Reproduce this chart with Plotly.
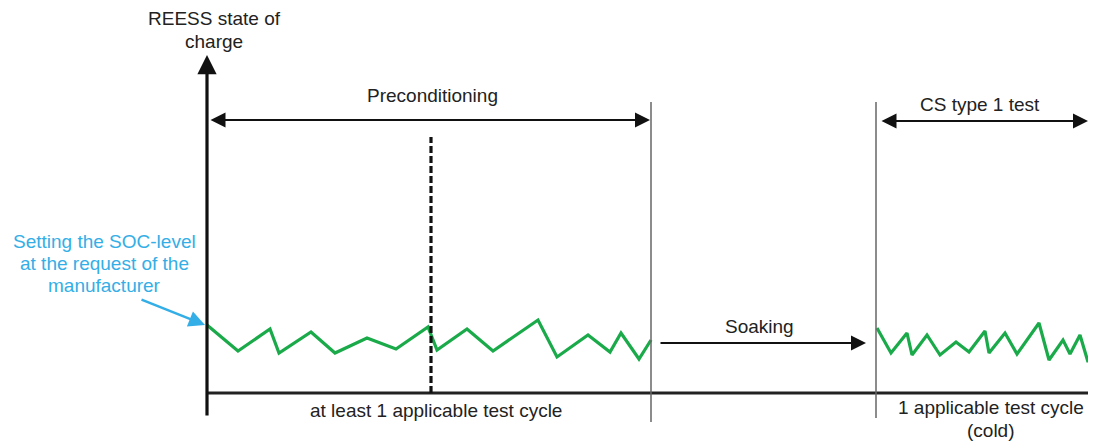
import plotly.graph_objects as go

# ---- data (time units along x, SOC units along y; origin at axis crossing) ----
precond_t = [0, 31, 63, 72, 104, 128, 160, 189, 221, 230, 260, 286, 331, 350, 381, 403, 414, 432, 444]
precond_soc = [68, 42, 64, 40, 61, 40, 55, 44, 66, 43, 64, 42, 73, 36, 58, 41, 60, 34, 53]
cold_t = [670, 684, 700, 705, 720, 733, 749, 762, 778, 782, 798, 810, 832, 842, 856, 863, 873, 881, 889]
cold_soc = [65, 40, 60, 38, 58, 38, 51, 41, 62, 40, 60, 39, 70, 33, 53, 39, 58, 31, 48]

y_title_lines = ["REESS state of", "charge"]
phase_labels = ["Preconditioning", "CS type 1 test", "Soaking"]
cycle_label_1 = "at least 1 applicable test cycle"
cycle_label_2_lines = ["1 applicable test cycle", "(cold)"]
soc_note_lines = ["Setting the SOC-level", "at the request of the", "manufacturer"]

# phase boundaries (time)
t_precond_end = 444
t_test_start = 669
t_end = 888
t_first_cycle_end = 224

GREEN = "#1aaa4a"
BLUE = "#34aee6"
FONT = "Liberation Sans, Arial, sans-serif"

fig = go.Figure()

for t, s in [(precond_t, precond_soc), (cold_t, cold_soc)]:
    fig.add_trace(go.Scatter(x=t, y=s, mode="lines",
                             line=dict(color=GREEN, width=3.2),
                             hoverinfo="skip", showlegend=False))

shapes = [
    # x-axis baseline
    dict(type="line", x0=0, x1=889, y0=0, y1=0, line=dict(color="#222", width=3)),
    # phase boundaries
    dict(type="line", x0=t_precond_end, x1=t_precond_end, y0=-29, y1=291, line=dict(color="#666", width=1.5)),
    dict(type="line", x0=t_test_start, x1=t_test_start, y0=-25, y1=291, line=dict(color="#666", width=1.5)),
    dict(type="line", x0=t_end, x1=t_end, y0=-27, y1=290, line=dict(color="#666", width=1.5)),
    # end of first cycle (dashed)
    dict(type="line", x0=t_first_cycle_end, x1=t_first_cycle_end, y0=0, y1=256,
         line=dict(color="#111", width=3.2, dash="7px,3px")),
]

def arrow(x, y, ax, ay, color="#111", width=2, both=False, size=1.5):
    d = dict(x=x, y=y, ax=ax, ay=ay, xref="x", yref="y", axref="x", ayref="y",
             text="", showarrow=True, arrowhead=2, arrowsize=size, arrowwidth=width,
             arrowcolor=color, standoff=0, startstandoff=0)
    if both:
        d.update(arrowside="end+start", startarrowhead=2, startarrowsize=size)
    return d

annotations = [
    arrow(0, 338, 0, -24, width=3.2, size=1.2),          # y axis
    arrow(443, 273, 2, 273, both=True),                  # Preconditioning span
    arrow(881, 272, 673, 272, both=True),                # CS type 1 test span
    arrow(659, 50, 452, 50),                             # Soaking
    arrow(-2, 68, -67, 94, color=BLUE, width=2.5, size=1.3),  # SOC note pointer
]

def label(text, x, y, color="#222", size=19):
    return dict(x=x, y=y, xref="x", yref="y", text=text, showarrow=False,
                font=dict(family=FONT, size=size, color=color),
                xanchor="center", yanchor="middle", align="center")

annotations += [
    label(y_title_lines[0], 7, 375),
    label(y_title_lines[1], 7, 352),
    label(phase_labels[0], 225, 298),
    label(phase_labels[1], 773, 289),
    label(phase_labels[2], 552, 67),
    label(cycle_label_1, 229, -17),
    label(cycle_label_2_lines[0], 784, -14),
    label(cycle_label_2_lines[1], 784, -37),
    label(soc_note_lines[0], -103, 152, color=BLUE),
    label(soc_note_lines[1], -103, 130, color=BLUE),
    label(soc_note_lines[2], -103, 108, color=BLUE),
]

# page body has an 8px margin: figure occupies window pixels 8..1096 x 8..441
fig.update_layout(
    width=1088, height=433,
    margin=dict(l=0, r=0, t=0, b=0),
    paper_bgcolor="white", plot_bgcolor="white",
    xaxis=dict(range=[-199, 889], visible=False, fixedrange=True),
    yaxis=dict(range=[-48, 385], visible=False, fixedrange=True),
    shapes=shapes, annotations=annotations,
    showlegend=False,
)

fig.write_html("out.html")
